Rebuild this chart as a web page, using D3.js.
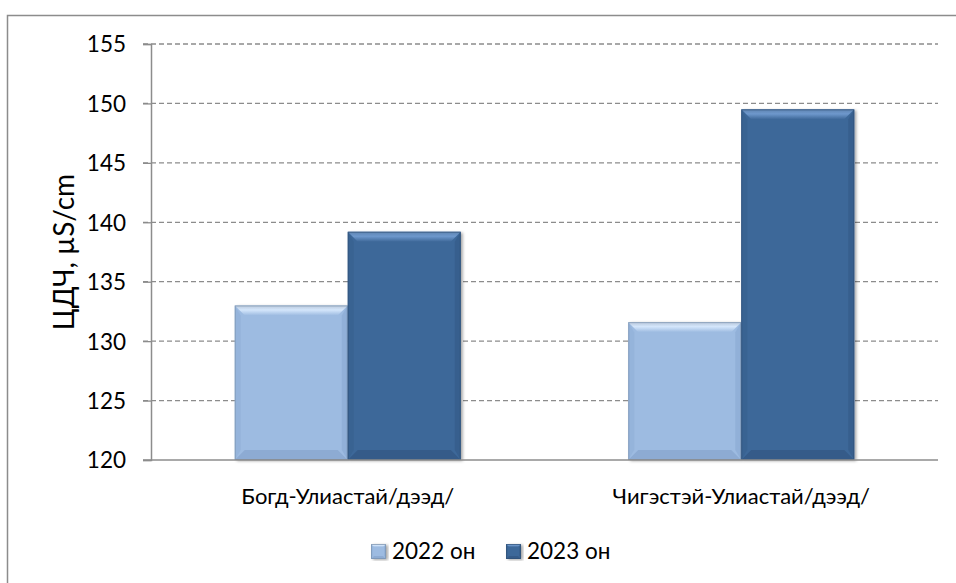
<!DOCTYPE html>
<html>
<head>
<meta charset="utf-8">
<script src="https://cdn.jsdelivr.net/npm/d3@7"></script>
<style>
  body { margin: 0; background: #fff; }
  text { font-family: Lato, "Open Sans", sans-serif; fill: #000; }
</style>
</head>
<body>
<svg id="chart"></svg>
<script>
const categories = ["Богд-Улиастай/дээд/", "Чигэстэй-Улиастай/дээд/"];
const seriesNames = ["2022 он", "2023 он"];
const values2022 = [133.0, 131.6];
const values2023 = [139.2, 149.5];
const yTicks = [120, 125, 130, 135, 140, 145, 150, 155];

const colors = { "2022 он": "#9dbbe1", "2023 он": "#3e6899" };
const bevelTop = { "2022 он": "#d4e6fb", "2023 он": "#6e98cc" };
const bevelSide = { "2022 он": "#8eaed6", "2023 он": "#365d8b" };
const bevelBottom = { "2022 он": "#8aa8cf", "2023 он": "#335884" };

const W = 956, H = 583;
const margin = { top: 44, right: 18, bottom: 123, left: 151 };

const svg = d3.select("#chart").attr("width", W).attr("height", H);

const defs = svg.append("defs");
const f = defs.append("filter").attr("id", "shadow").attr("x", "-10%").attr("y", "-10%").attr("width", "130%").attr("height", "120%");
f.append("feDropShadow").attr("dx", 2).attr("dy", 1).attr("stdDeviation", 1.5).attr("flood-color", "#000").attr("flood-opacity", 0.35);

// top bevel gradients
seriesNames.forEach((s, i) => {
  const lg = defs.append("linearGradient").attr("id", "top" + i).attr("x1", 0).attr("y1", 0).attr("x2", 0).attr("y2", 1);
  lg.append("stop").attr("offset", "0%").attr("stop-color", d3.color(bevelTop[s]).darker(0.4));
  lg.append("stop").attr("offset", "45%").attr("stop-color", bevelTop[s]);
  lg.append("stop").attr("offset", "100%").attr("stop-color", colors[s]);
});

// outer frame
svg.append("rect").attr("x", 7.5).attr("y", 15.5).attr("width", 1000).attr("height", 1000)
  .attr("fill", "none").attr("stroke", "#8c8c8c").attr("stroke-width", 1.5);

const x = d3.scaleBand().domain(categories).range([margin.left, W - margin.right])
  .paddingInner(0.4257).paddingOuter(0.4257 / 2);
const xs = d3.scaleBand().domain(seriesNames).range([0, x.bandwidth()]);
const y = d3.scaleLinear().domain([120, 155]).range([H - margin.bottom, margin.top]);

// gridlines
svg.append("g").selectAll("line").data(yTicks.slice(1)).join("line")
  .attr("x1", margin.left - 8).attr("x2", W - margin.right)
  .attr("y1", d => y(d)).attr("y2", d => y(d))
  .attr("stroke", "#8c8c8c").attr("stroke-width", 1.3).attr("stroke-dasharray", "5,3");

// y axis
const yAxis = svg.append("g").attr("transform", `translate(${margin.left},0)`)
  .call(d3.axisLeft(y).tickValues(yTicks).tickSize(8).tickPadding(17));
yAxis.select(".domain").attr("stroke", "#8c8c8c").attr("stroke-width", 1.5);
yAxis.selectAll(".tick line").attr("stroke", "#8c8c8c").attr("stroke-width", 1.3);
yAxis.selectAll(".tick text").style("font-size", "22.5px").attr("dy", "0.35em");

// bars
const data = [];
categories.forEach((c, i) => {
  data.push({ cat: c, series: "2022 он", value: values2022[i] });
  data.push({ cat: c, series: "2023 он", value: values2023[i] });
});

function bevelBar(g, x0, y0, w, h, s, b) {
  const si = seriesNames.indexOf(s);
  g.append("rect").attr("x", x0).attr("y", y0).attr("width", w).attr("height", h)
    .attr("fill", colors[s]).attr("filter", "url(#shadow)");
  // top bevel
  g.append("path").attr("d", `M${x0},${y0}L${x0 + w},${y0}L${x0 + w - b},${y0 + b}L${x0 + b},${y0 + b}Z`)
    .attr("fill", `url(#top${si})`);
  // left bevel
  g.append("path").attr("d", `M${x0},${y0}L${x0 + b * 0.6},${y0 + b}L${x0 + b * 0.6},${y0 + h - b}L${x0},${y0 + h}Z`)
    .attr("fill", bevelSide[s]).attr("opacity", 0.5);
  // right bevel
  g.append("path").attr("d", `M${x0 + w},${y0}L${x0 + w - b * 0.6},${y0 + b}L${x0 + w - b * 0.6},${y0 + h - b}L${x0 + w},${y0 + h}Z`)
    .attr("fill", bevelSide[s]).attr("opacity", 0.8);
  // bottom bevel
  g.append("path").attr("d", `M${x0},${y0 + h}L${x0 + b},${y0 + h - b}L${x0 + w - b},${y0 + h - b}L${x0 + w},${y0 + h}Z`)
    .attr("fill", bevelBottom[s]).attr("opacity", 0.8);
  g.append("rect").attr("x", x0 + 0.5).attr("y", y0 + 0.5).attr("width", w - 1).attr("height", h - 1)
    .attr("fill", "none").attr("stroke", d3.color(colors[s]).darker(0.8)).attr("stroke-width", 1).attr("opacity", 0.6);
}

const barsG = svg.append("g");
data.forEach(d => {
  const g = barsG.append("g");
  const x0 = x(d.cat) + xs(d.series);
  const y0 = y(d.value);
  bevelBar(g, x0, y0, xs.bandwidth(), y(120) - y0, d.series, 10);
});

// x axis
svg.append("line").attr("x1", margin.left - 8).attr("x2", W - margin.right)
  .attr("y1", y(120)).attr("y2", y(120)).attr("stroke", "#8c8c8c").attr("stroke-width", 1.5);

svg.append("g").selectAll("text").data(categories).join("text")
  .attr("x", d => x(d) + x.bandwidth() / 2).attr("y", 504)
  .attr("text-anchor", "middle").style("font-size", "22px").text(d => d);

// y title
svg.append("text").attr("transform", `translate(74,252) rotate(-90)`)
  .attr("text-anchor", "middle").style("font-size", "28px").text("ЦДЧ, µS/cm");

// legend
const legend = svg.append("g");
const legendX = [371, 506];
seriesNames.forEach((s, i) => {
  const g = legend.append("g");
  bevelBar(g, legendX[i], 544, 15, 15, s, 3);
  g.append("text").attr("x", legendX[i] + 21).attr("y", 559).style("font-size", "22.5px").text(s);
});
</script>
</body>
</html>
